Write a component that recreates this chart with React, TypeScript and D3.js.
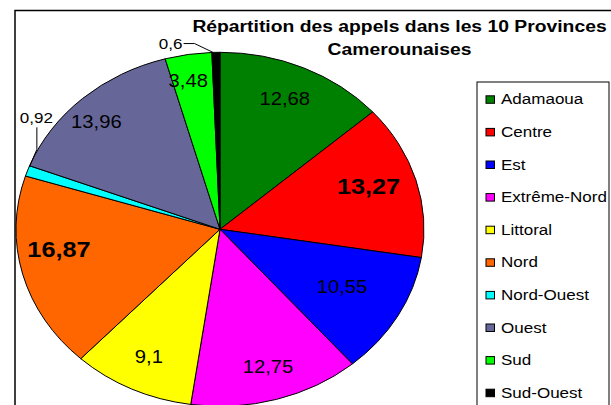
import React from "react";
import * as d3 from "d3";

const categories = ["Adamaoua", "Centre", "Est", "Extrême-Nord", "Littoral", "Nord", "Nord-Ouest", "Ouest", "Sud", "Sud-Ouest"];
const values = [12.68, 13.27, 10.55, 12.75, 9.1, 16.87, 0.92, 13.96, 3.48, 0.6];
const colors = ["#008000", "#FF0000", "#0000FF", "#FF00FF", "#FFFF00", "#FF6600", "#00FFFF", "#666699", "#00FF00", "#000000"];
const boldSlices = ["Centre", "Nord"];
const titleLines = ["Répartition des appels dans les 10 Provinces", "Camerounaises"];

// label layout (radius fraction, angle shift in degrees from slice mid-angle)
const labelRadius = [0.804, 0.768, 0.681, 0.81, 0.8, 0.797, 1.1, 0.857, 0.852, 1.077];
const labelShift = [-1, -2.4, -0.8, -0.8, 0.2, 6.7, 15.8, -2.7, -1.6, -11.85];

const W = 611, H = 405;
const cx = 220, cy = 229.3, ry = 177, rx = 204;
const sx = rx / ry;
const FONT = "'Liberation Sans', Arial, Helvetica, sans-serif";
const STRETCH = 1.15;

export default function App() {
  const pie = d3.pie<number>().sort(null).value((d) => d)(values);
  const arc = d3.arc<d3.PieArcDatum<number>>().innerRadius(0).outerRadius(ry);
  const pt = (angle: number, r: number) => [cx + rx * r * Math.sin(angle), cy - ry * r * Math.cos(angle)];

  const legendX = 477, legendY = 82, legendStep = 32.6, legendFirst = 104.3;

  return (
    <svg width={W} height={H} style={{ position: "fixed", left: 0, top: 0, background: "#fff" }} fontFamily={FONT}>
      <rect x={0} y={0} width={W} height={H} fill="#fff" />
      <rect x={15} y={10.5} width={720} height={600} fill="none" stroke="#000" strokeWidth={1.5} />
      {titleLines.map((t, i) => (
        <text key={t} transform={`translate(399.5,${31.7 + i * 23.3}) scale(${STRETCH},1)`} textAnchor="middle" fontWeight="bold" fontSize={16.8} fill="#000">
          {t}
        </text>
      ))}
      <g transform={`translate(${cx},${cy}) scale(${sx},1)`}>
        {pie.map((p, i) => (
          <path key={i} d={arc(p) || ""} fill={colors[i]} stroke="#000" strokeWidth={1} vectorEffect="non-scaling-stroke" />
        ))}
      </g>
      {pie.map((p, i) => {
        const mid = (p.startAngle + p.endAngle) / 2;
        const a = mid + (labelShift[i] * Math.PI) / 180;
        const [x, y] = pt(a, labelRadius[i]);
        const bold = boldSlices.includes(categories[i]);
        const outside = labelRadius[i] > 1;
        const fs = bold ? 22 : outside ? 14.8 : 17.6;
        const label = String(values[i]).replace(".", ",");
        let leader: string | null = null;
        if (outside) {
          const [ex, ey] = pt(mid, 1);
          if (x < cx - 100) {
            leader = `M${x + 0.5},${y + 10}L${x + 0.5},${y + 32}L${ex + 2},${ey - 4}`;
          } else {
            leader = `M${x + 13},${y}L${x + 24},${y}L${ex - 3},${ey}`;
          }
        }
        return (
          <g key={i}>
            {leader && <path d={leader} fill="none" stroke="#000" strokeWidth={1} />}
            <text transform={`translate(${x},${y}) scale(${STRETCH},1)`} textAnchor="middle" dy="0.36em" fontSize={fs} fontWeight={bold ? "bold" : "normal"} fill="#000">
              {label}
            </text>
          </g>
        );
      })}
      <rect x={legendX} y={legendY} width={132} height={400} fill="#fff" stroke="#000" strokeWidth={1} />
      {categories.map((c, i) => {
        const by = legendFirst + i * legendStep;
        return (
          <g key={c}>
            <rect x={486} y={by - 8.5} width={8.5} height={7.5} fill={colors[i]} stroke="#000" strokeWidth={1} />
            <text transform={`translate(501,${by}) scale(${STRETCH},1)`} fontSize={14.8} fill="#000">
              {c}
            </text>
          </g>
        );
      })}
    </svg>
  );
}
